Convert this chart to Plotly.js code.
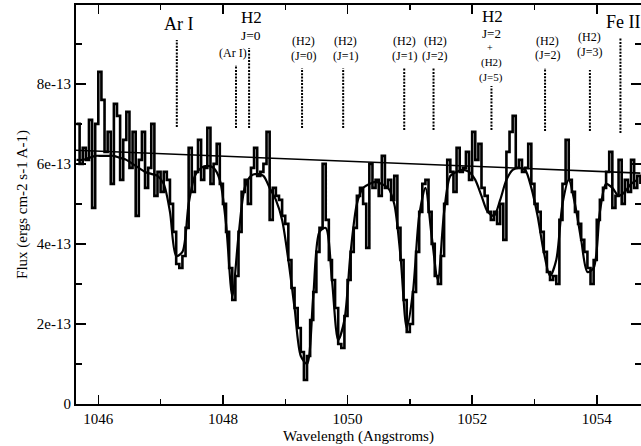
<!DOCTYPE html>
<html>
<head>
<meta charset="utf-8">
<script src="https://cdn.plot.ly/plotly-3.0.1.min.js"></script>
<style>
  html, body { margin: 0; padding: 0; background: #fff; }
  #chart { width: 641px; height: 446px; }
</style>
</head>
<body>
<div id="chart"></div>
<script>
// ---------------- DATA ----------------
// Observed spectrum, flux in units of 1e-13 erg cm-2 s-1 A-1, sampled every 0.05 A from 1045.65 A
const specStart = 1045.65;
const specStep = 0.05;
const specFlux = [
  7.0, 6.0, 6.4, 6.1, 7.1, 4.9, 7.0, 8.3, 7.6, 6.3,
  6.8, 5.5, 7.5, 7.2, 5.6, 6.6, 7.3, 5.9, 6.8, 4.7,
  6.1, 6.8, 5.4, 5.9, 7.0, 5.2, 5.8, 5.3, 5.8, 5.6,
  5.0, 4.3, 3.5, 3.4, 3.7, 4.4, 6.4, 5.3, 5.8, 6.6,
  5.6, 5.9, 6.9, 5.5, 6.0, 6.5, 5.5, 5.0, 4.3, 3.4,
  2.6, 3.2, 4.3, 5.3, 5.6, 5.0, 5.9, 6.4, 5.7, 5.8,
  6.0, 6.8, 4.6, 5.4, 5.2, 5.1, 4.7, 4.5, 3.6, 2.9,
  2.4, 1.9, 1.3, 0.6, 1.2, 2.1, 2.8, 3.8, 4.4, 6.0,
  4.6, 3.6, 3.1, 2.4, 1.5, 1.4, 2.2, 3.1, 3.8, 4.4,
  5.2, 5.4, 5.0, 3.9, 6.0, 5.4, 5.6, 5.2, 6.2, 5.4,
  5.6, 5.1, 5.7, 4.4, 3.6, 2.6, 1.8, 2.0, 2.8, 3.8,
  4.8, 5.5, 5.6, 4.8, 4.0, 3.2, 3.0, 3.7, 5.0, 6.1,
  5.8, 5.3, 6.4, 5.8, 5.9, 6.3, 5.6, 6.8, 6.1, 6.5,
  5.4, 5.2, 4.8, 4.6, 4.8, 4.5, 5.0, 4.1, 6.3, 6.8,
  7.2, 5.9, 6.1, 5.8, 5.9, 6.5, 5.5, 5.0, 4.8, 4.3,
  3.8, 3.3, 3.1, 3.2, 3.0, 4.6, 5.5, 6.6, 5.6, 5.3,
  4.8, 4.5, 4.1, 3.8, 3.4, 3.0, 3.6, 4.6, 5.1, 5.4,
  5.8, 6.3, 4.9, 5.2, 6.1, 5.0, 5.6, 5.3, 6.1, 5.4,
  5.7, 5.5
];

// Model fit, flux in 1e-13 units, every 0.1 A from 1045.65 A
const modelStart = 1045.65;
const modelStep = 0.1;
const modelFlux = [
  6.1, 6.1, 6.15, 6.2, 6.2, 6.2, 6.2, 6.15, 6.1, 6.0,
  5.9, 5.8, 5.75, 5.7, 5.5, 4.8, 3.7, 3.8, 5.0, 5.7,
  5.9, 5.95, 5.9, 5.6, 4.5, 2.7, 4.2, 5.4, 5.7, 5.75,
  5.7, 5.4, 5.1, 4.6, 3.6, 2.4, 1.2, 1.0, 2.7, 4.3,
  4.4, 3.1, 1.6, 2.1, 3.8, 5.0, 5.4, 5.5, 5.55, 5.5,
  5.4, 5.0, 3.7, 1.9, 2.8, 4.7, 5.4, 4.2, 3.1, 4.8,
  5.7, 5.8, 5.85, 5.8, 5.6, 5.2, 4.8, 4.7, 5.1, 5.6,
  5.85, 5.9, 5.85, 5.4, 4.7, 3.8, 3.2, 3.6, 5.0, 5.6,
  5.0, 4.1, 3.3, 3.4, 4.8, 5.5, 5.4, 5.2, 5.3, 5.5,
  5.6
];

// Continuum (straight line)
const contWave = [1045.64, 1054.70];
const contFlux = [6.34, 5.77];

// Identified absorption lines (wavelength, A)
const lineWave = [1047.26, 1048.21, 1048.42, 1049.27, 1049.93, 1050.91, 1051.38, 1052.31, 1053.17, 1053.89, 1054.38];

// Axis ticks
const yTickVals = [0, 2, 4, 6, 8];
const yTickText = ['0', '2e-13', '4e-13', '6e-13', '8e-13'];

// Label texts (one group per line identification)
const labelGroups = [
  ['Ar I'],
  ['(Ar I)'],
  ['H2', 'J=0'],
  ['(H2)', '(J=0)'],
  ['(H2)', '(J=1)'],
  ['(H2)', '(J=1)'],
  ['(H2)', '(J=2)'],
  ['H2', 'J=2', '+', '(H2)', '(J=5)'],
  ['(H2)', '(J=2)'],
  ['(H2)', '(J=3)'],
  ['Fe II']
];

// ---------------- LAYOUT / STYLE ----------------
const FONT = 'Liberation Serif, Times New Roman, serif';
const PLOT_TOP = 5, PLOT_H = 399, YMAX = 9.97;
function pyToFlux(py) { return (PLOT_TOP + PLOT_H - py) * YMAX / PLOT_H; }

// per-line marker extents (pixel rows) and label layout
const markerTop = [40, 65, 48, 68, 68, 68, 68, 86, 68, 70, 38];
const markerBot = [127, 128, 128, 128, 128, 130, 130, 130, 131, 131, 133];
// label style per text line: [centre pixel row, font size, x shift]
const labelStyle = [
  [[24, 18, 2]],
  [[53, 12, -3]],
  [[17, 17, 2], [35.5, 13.5, 2]],
  [[41, 12, 1], [56, 12, 1]],
  [[41, 12, 2], [56, 12, 2]],
  [[41, 12, 0], [56, 12, 0]],
  [[41, 12, 2], [56, 12, 1]],
  [[16, 17, 1], [33.5, 13, 0], [47.5, 10, -1], [62, 11, 0], [77, 11, 0]],
  [[41, 12, 2], [55, 12, 2]],
  [[37, 12, 0], [52, 12, 0]],
  [[22, 18, 0]]
];

const shapes = lineWave.map((w, i) => ({
  type: 'line', xref: 'x', yref: 'y',
  x0: w, x1: w, y0: pyToFlux(markerBot[i]), y1: pyToFlux(markerTop[i]),
  line: { color: '#000', width: 2, dash: '2px,1.3px' }
}));

const annotations = [];
labelGroups.forEach((grp, i) => {
  grp.forEach((txt, k) => {
    const st = labelStyle[i][k];
    const isFe = (txt === 'Fe II');
    annotations.push({
      xref: 'x', yref: 'y', x: lineWave[i], y: pyToFlux(st[0]),
      text: txt, showarrow: false,
      xanchor: isFe ? 'left' : 'center', yanchor: 'middle',
      xshift: isFe ? -16 : st[2],
      font: { family: FONT, size: st[1], color: '#000' }
    });
  });
});

const traces = [
  {
    type: 'scatter', mode: 'lines', x0: specStart, dx: specStep, y: specFlux,
    line: { color: '#000', width: 2.6, shape: 'hv' }, hoverinfo: 'skip'
  },
  {
    type: 'scatter', mode: 'lines', x0: modelStart, dx: modelStep, y: modelFlux,
    line: { color: '#000', width: 2.2, shape: 'spline', smoothing: 0.8 }, hoverinfo: 'skip'
  },
  {
    type: 'scatter', mode: 'lines', x: contWave, y: contFlux,
    line: { color: '#000', width: 1.6 }, hoverinfo: 'skip'
  }
];

const layout = {
  width: 641, height: 446,
  margin: { l: 76, r: 0, t: PLOT_TOP, b: 446 - PLOT_TOP - PLOT_H, pad: 0 },
  paper_bgcolor: '#fff', plot_bgcolor: '#fff',
  showlegend: false,
  font: { family: FONT, color: '#000' },
  xaxis: {
    range: [1045.642, 1054.71],
    tickmode: 'linear', tick0: 1046, dtick: 2,
    ticks: 'inside', ticklen: 9, tickwidth: 1.6, tickcolor: '#000',
    minor: { tickmode: 'linear', tick0: 1046, dtick: 1, ticks: 'inside', ticklen: 5, tickwidth: 1.4, tickcolor: '#000', showgrid: false },
    showline: true, linewidth: 2, linecolor: '#000', mirror: 'allticks',
    showgrid: false, zeroline: false,
    tickfont: { family: FONT, size: 15, color: '#000' },
    title: { text: 'Wavelength (Angstroms)', font: { family: FONT, size: 15, color: '#000' }, standoff: 4 }
  },
  yaxis: {
    range: [0, YMAX],
    tickmode: 'array', tickvals: yTickVals, ticktext: yTickText,
    ticks: 'inside', ticklen: 10, tickwidth: 1.6, tickcolor: '#000',
    minor: { tickmode: 'linear', tick0: 0, dtick: 1, ticks: 'inside', ticklen: 6, tickwidth: 1.4, tickcolor: '#000', showgrid: false },
    showline: true, linewidth: 2, linecolor: '#000', mirror: 'allticks',
    showgrid: false, zeroline: false,
    tickfont: { family: FONT, size: 15, color: '#000' },
    title: { text: 'Flux (ergs cm-2 s-1 A-1)', font: { family: FONT, size: 15, color: '#000' }, standoff: 6 }
  },
  shapes: shapes,
  annotations: annotations
};

Plotly.newPlot('chart', traces, layout, { displayModeBar: false, staticPlot: true });
</script>
</body>
</html>
